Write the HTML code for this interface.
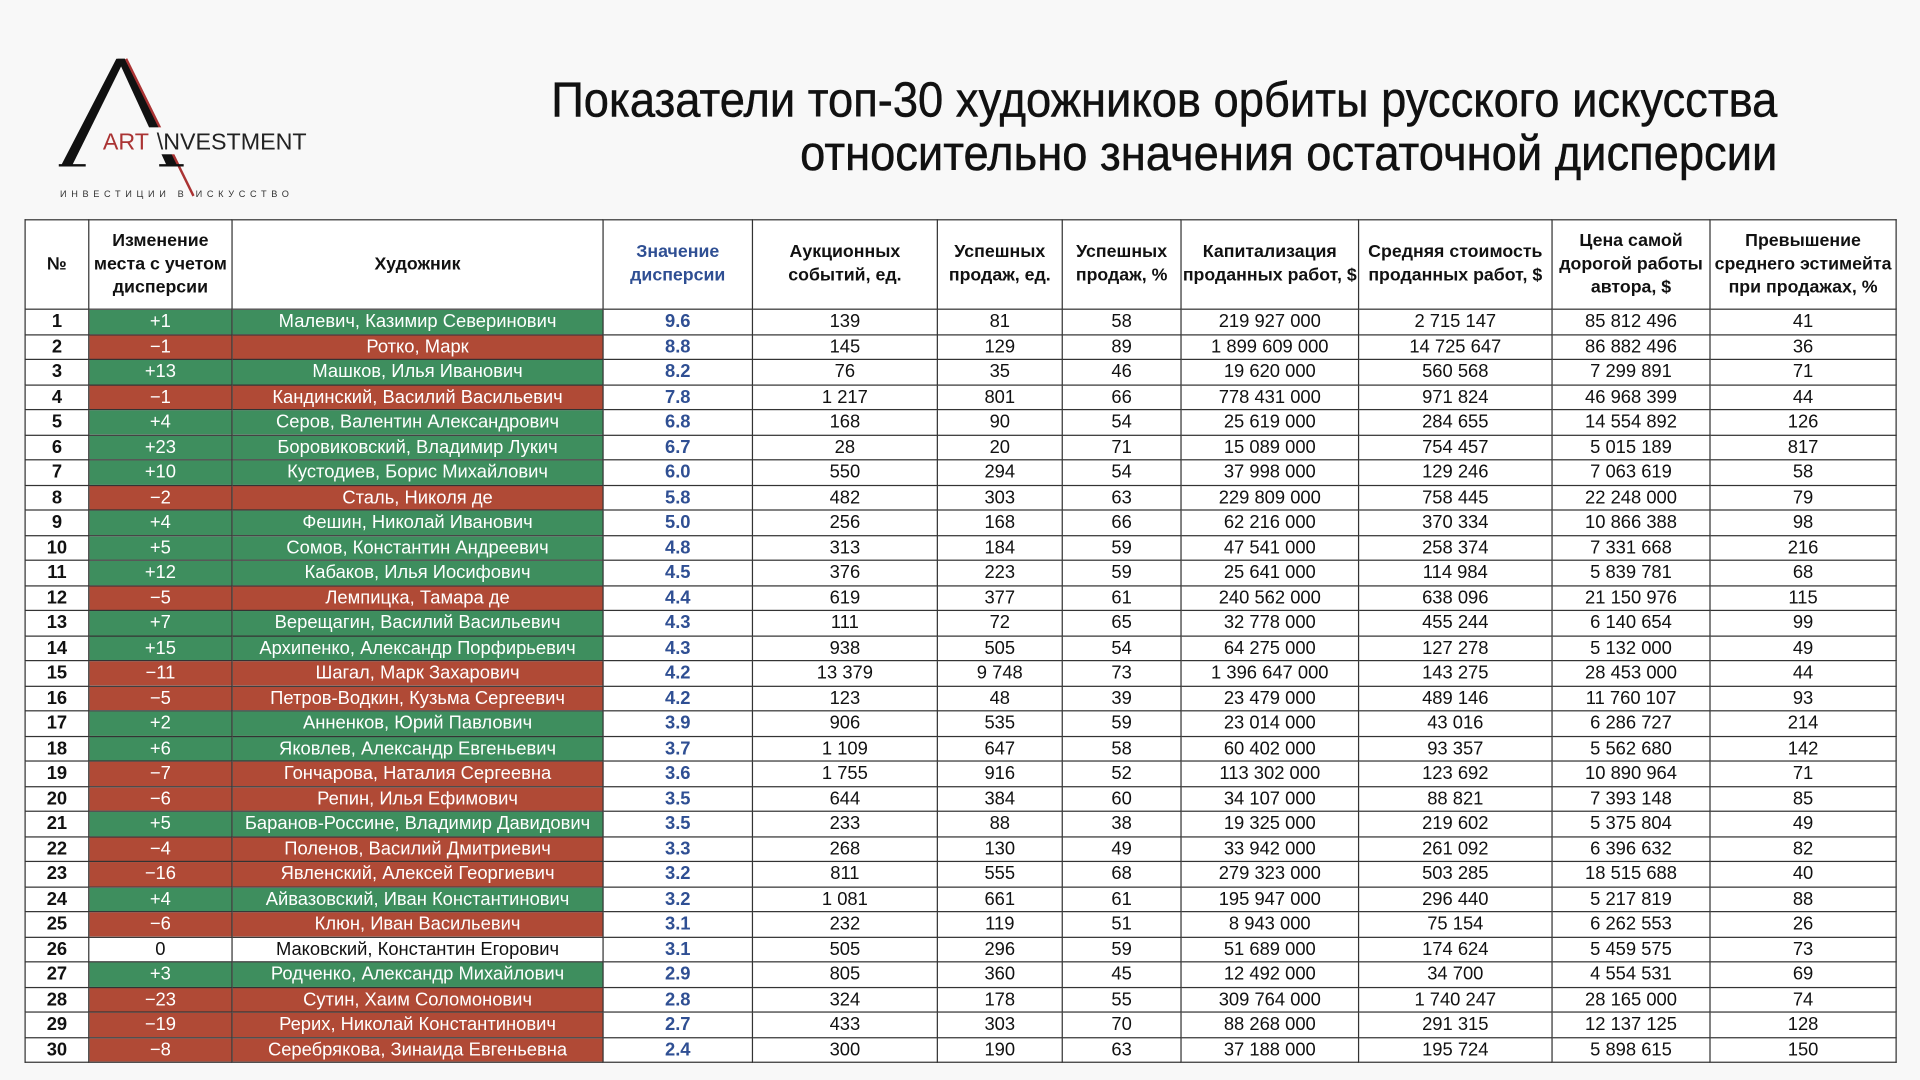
<!DOCTYPE html>
<html><head><meta charset="utf-8">
<style>
html,body{margin:0;padding:0;background:#f8f8f8;}
body{width:1920px;height:1080px;overflow:hidden;}
#w{width:1568px;height:882px;transform:scale(1.22449);transform-origin:0 0;position:relative;font-family:"Liberation Sans Narrow","Liberation Sans","DejaVu Sans Condensed",sans-serif;}
.title{position:absolute;right:117px;top:60px;text-align:right;font-size:40px;line-height:44px;color:#111;transform:scaleX(0.925);transform-origin:right top;-webkit-text-stroke:0.4px #111;}
table{position:absolute;left:20px;top:179px;border-collapse:collapse;table-layout:fixed;width:1528px;background:#fff;}
td,th{border:1px solid #333;text-align:center;padding:0;overflow:hidden;white-space:nowrap;}
th{height:72px;font-size:14.5px;line-height:19px;font-weight:bold;color:#111;white-space:normal;}
td{height:19.5px;font-size:15px;line-height:19px;color:#111;}
td:first-child{font-weight:bold;}
.b{color:#2f4f93;font-weight:bold;}
.g{background:#3e8e5e;color:#fff;}
.r{background:#b04a36;color:#fff;}
</style></head><body><div id="w">
<svg style="position:absolute;left:40px;top:40px" width="230" height="130">
<polygon points="10,95 55,8 62,8 19,95" fill="#111"/>
<polygon points="56,8 62,8 106,95 96,95" fill="#111"/>
<line x1="63" y1="8" x2="118" y2="120" stroke="#a33" stroke-width="2"/>
<line x1="8" y1="95" x2="30" y2="95" stroke="#111" stroke-width="2"/>
<line x1="90" y1="95" x2="110" y2="95" stroke="#111" stroke-width="2"/>
<rect x="40" y="64" width="180" height="22" fill="#f8f8f8"/>
<text x="44" y="82" font-family="Liberation Sans" font-size="19" fill="#a33">ART</text>
<text x="88" y="82" font-family="Liberation Sans" font-size="19" fill="#222">\NVESTMENT</text>
<text x="9" y="121" font-family="Liberation Sans" font-size="7.5" letter-spacing="3.8" fill="#333">ИНВЕСТИЦИИ  В  ИСКУССТВО</text>
</svg>
<div class="title">Показатели топ-30 художников орбиты русского искусства<br>относительно значения остаточной дисперсии</div>
<table>
<colgroup><col style="width:52px"><col style="width:117px"><col style="width:303px"><col style="width:122px"><col style="width:151px"><col style="width:102px"><col style="width:97px"><col style="width:145px"><col style="width:158px"><col style="width:129px"><col style="width:152px"></colgroup>
<tr><th>№</th><th>Изменение места с учетом дисперсии</th><th>Художник</th><th class="b">Значение<br>дисперсии</th><th>Аукционных<br>событий, ед.</th><th>Успешных<br>продаж, ед.</th><th>Успешных<br>продаж, %</th><th>Капитализация<br>проданных работ, $</th><th>Средняя стоимость<br>проданных работ, $</th><th>Цена самой<br>дорогой работы<br>автора, $</th><th>Превышение<br>среднего эстимейта<br>при продажах, %</th></tr>
<tr><td>1</td><td class="g">+1</td><td class="g">Малевич, Казимир Северинович</td><td class="b">9.6</td><td>139</td><td>81</td><td>58</td><td>219 927 000</td><td>2 715 147</td><td>85 812 496</td><td>41</td></tr>
<tr><td>2</td><td class="r">−1</td><td class="r">Ротко, Марк</td><td class="b">8.8</td><td>145</td><td>129</td><td>89</td><td>1 899 609 000</td><td>14 725 647</td><td>86 882 496</td><td>36</td></tr>
<tr><td>3</td><td class="g">+13</td><td class="g">Машков, Илья Иванович</td><td class="b">8.2</td><td>76</td><td>35</td><td>46</td><td>19 620 000</td><td>560 568</td><td>7 299 891</td><td>71</td></tr>
<tr><td>4</td><td class="r">−1</td><td class="r">Кандинский, Василий Васильевич</td><td class="b">7.8</td><td>1 217</td><td>801</td><td>66</td><td>778 431 000</td><td>971 824</td><td>46 968 399</td><td>44</td></tr>
<tr><td>5</td><td class="g">+4</td><td class="g">Серов, Валентин Александрович</td><td class="b">6.8</td><td>168</td><td>90</td><td>54</td><td>25 619 000</td><td>284 655</td><td>14 554 892</td><td>126</td></tr>
<tr><td>6</td><td class="g">+23</td><td class="g">Боровиковский, Владимир Лукич</td><td class="b">6.7</td><td>28</td><td>20</td><td>71</td><td>15 089 000</td><td>754 457</td><td>5 015 189</td><td>817</td></tr>
<tr><td>7</td><td class="g">+10</td><td class="g">Кустодиев, Борис Михайлович</td><td class="b">6.0</td><td>550</td><td>294</td><td>54</td><td>37 998 000</td><td>129 246</td><td>7 063 619</td><td>58</td></tr>
<tr><td>8</td><td class="r">−2</td><td class="r">Сталь, Николя де</td><td class="b">5.8</td><td>482</td><td>303</td><td>63</td><td>229 809 000</td><td>758 445</td><td>22 248 000</td><td>79</td></tr>
<tr><td>9</td><td class="g">+4</td><td class="g">Фешин, Николай Иванович</td><td class="b">5.0</td><td>256</td><td>168</td><td>66</td><td>62 216 000</td><td>370 334</td><td>10 866 388</td><td>98</td></tr>
<tr><td>10</td><td class="g">+5</td><td class="g">Сомов, Константин Андреевич</td><td class="b">4.8</td><td>313</td><td>184</td><td>59</td><td>47 541 000</td><td>258 374</td><td>7 331 668</td><td>216</td></tr>
<tr><td>11</td><td class="g">+12</td><td class="g">Кабаков, Илья Иосифович</td><td class="b">4.5</td><td>376</td><td>223</td><td>59</td><td>25 641 000</td><td>114 984</td><td>5 839 781</td><td>68</td></tr>
<tr><td>12</td><td class="r">−5</td><td class="r">Лемпицка, Тамара де</td><td class="b">4.4</td><td>619</td><td>377</td><td>61</td><td>240 562 000</td><td>638 096</td><td>21 150 976</td><td>115</td></tr>
<tr><td>13</td><td class="g">+7</td><td class="g">Верещагин, Василий Васильевич</td><td class="b">4.3</td><td>111</td><td>72</td><td>65</td><td>32 778 000</td><td>455 244</td><td>6 140 654</td><td>99</td></tr>
<tr><td>14</td><td class="g">+15</td><td class="g">Архипенко, Александр Порфирьевич</td><td class="b">4.3</td><td>938</td><td>505</td><td>54</td><td>64 275 000</td><td>127 278</td><td>5 132 000</td><td>49</td></tr>
<tr><td>15</td><td class="r">−11</td><td class="r">Шагал, Марк Захарович</td><td class="b">4.2</td><td>13 379</td><td>9 748</td><td>73</td><td>1 396 647 000</td><td>143 275</td><td>28 453 000</td><td>44</td></tr>
<tr><td>16</td><td class="r">−5</td><td class="r">Петров-Водкин, Кузьма Сергеевич</td><td class="b">4.2</td><td>123</td><td>48</td><td>39</td><td>23 479 000</td><td>489 146</td><td>11 760 107</td><td>93</td></tr>
<tr><td>17</td><td class="g">+2</td><td class="g">Анненков, Юрий Павлович</td><td class="b">3.9</td><td>906</td><td>535</td><td>59</td><td>23 014 000</td><td>43 016</td><td>6 286 727</td><td>214</td></tr>
<tr><td>18</td><td class="g">+6</td><td class="g">Яковлев, Александр Евгеньевич</td><td class="b">3.7</td><td>1 109</td><td>647</td><td>58</td><td>60 402 000</td><td>93 357</td><td>5 562 680</td><td>142</td></tr>
<tr><td>19</td><td class="r">−7</td><td class="r">Гончарова, Наталия Сергеевна</td><td class="b">3.6</td><td>1 755</td><td>916</td><td>52</td><td>113 302 000</td><td>123 692</td><td>10 890 964</td><td>71</td></tr>
<tr><td>20</td><td class="r">−6</td><td class="r">Репин, Илья Ефимович</td><td class="b">3.5</td><td>644</td><td>384</td><td>60</td><td>34 107 000</td><td>88 821</td><td>7 393 148</td><td>85</td></tr>
<tr><td>21</td><td class="g">+5</td><td class="g">Баранов-Россине, Владимир Давидович</td><td class="b">3.5</td><td>233</td><td>88</td><td>38</td><td>19 325 000</td><td>219 602</td><td>5 375 804</td><td>49</td></tr>
<tr><td>22</td><td class="r">−4</td><td class="r">Поленов, Василий Дмитриевич</td><td class="b">3.3</td><td>268</td><td>130</td><td>49</td><td>33 942 000</td><td>261 092</td><td>6 396 632</td><td>82</td></tr>
<tr><td>23</td><td class="r">−16</td><td class="r">Явленский, Алексей Георгиевич</td><td class="b">3.2</td><td>811</td><td>555</td><td>68</td><td>279 323 000</td><td>503 285</td><td>18 515 688</td><td>40</td></tr>
<tr><td>24</td><td class="g">+4</td><td class="g">Айвазовский, Иван Константинович</td><td class="b">3.2</td><td>1 081</td><td>661</td><td>61</td><td>195 947 000</td><td>296 440</td><td>5 217 819</td><td>88</td></tr>
<tr><td>25</td><td class="r">−6</td><td class="r">Клюн, Иван Васильевич</td><td class="b">3.1</td><td>232</td><td>119</td><td>51</td><td>8 943 000</td><td>75 154</td><td>6 262 553</td><td>26</td></tr>
<tr><td>26</td><td>0</td><td>Маковский, Константин Егорович</td><td class="b">3.1</td><td>505</td><td>296</td><td>59</td><td>51 689 000</td><td>174 624</td><td>5 459 575</td><td>73</td></tr>
<tr><td>27</td><td class="g">+3</td><td class="g">Родченко, Александр Михайлович</td><td class="b">2.9</td><td>805</td><td>360</td><td>45</td><td>12 492 000</td><td>34 700</td><td>4 554 531</td><td>69</td></tr>
<tr><td>28</td><td class="r">−23</td><td class="r">Сутин, Хаим Соломонович</td><td class="b">2.8</td><td>324</td><td>178</td><td>55</td><td>309 764 000</td><td>1 740 247</td><td>28 165 000</td><td>74</td></tr>
<tr><td>29</td><td class="r">−19</td><td class="r">Рерих, Николай Константинович</td><td class="b">2.7</td><td>433</td><td>303</td><td>70</td><td>88 268 000</td><td>291 315</td><td>12 137 125</td><td>128</td></tr>
<tr><td>30</td><td class="r">−8</td><td class="r">Серебрякова, Зинаида Евгеньевна</td><td class="b">2.4</td><td>300</td><td>190</td><td>63</td><td>37 188 000</td><td>195 724</td><td>5 898 615</td><td>150</td></tr>
</table>
</div></body></html>
